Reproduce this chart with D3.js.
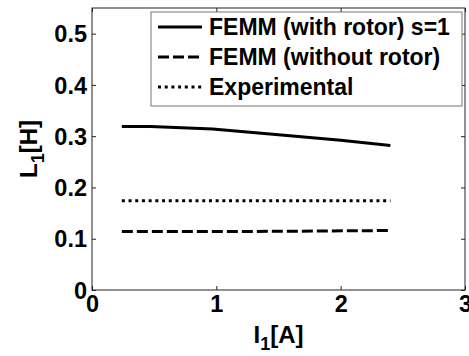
<!DOCTYPE html>
<html>
<head>
<meta charset="utf-8">
<script src="https://cdn.jsdelivr.net/npm/d3@7"></script>
<style>
  body { margin: 0; background: #fff; }
  text { font-family: Arial, "Liberation Sans", sans-serif; font-weight: bold; fill: #000; }
</style>
</head>
<body>
<script>
// values
const withRotorI = [0.24, 0.47, 0.97, 1.5, 2.0, 2.4]
const withRotorL = [0.319, 0.319, 0.314, 0.303, 0.292, 0.282]
const withoutRotorI = [0.24, 1.2, 2.4]
const withoutRotorL = [0.114, 0.114, 0.116]
const experimentalI = [0.24, 2.4]
const experimentalL = [0.174, 0.174]
const xTicks = [0, 1, 2, 3]
const yTicks = [0, 0.1, 0.2, 0.3, 0.4, 0.5]
const legendLabels = ["FEMM (with rotor) s=1", "FEMM (without rotor)", "Experimental"]

const width = 469
const height = 356
const plotLeft = 92, plotRight = 465, plotTop = 8, plotBottom = 290

let svg = d3.select("body").append("svg")
    .attr("width", width)
    .attr("height", height)

let x = d3.scaleLinear().domain([0, 3]).range([plotLeft, plotRight])
let y = d3.scaleLinear().domain([0, 0.55]).range([plotBottom, plotTop])

// box with inward ticks on all four sides
svg.append("rect")
    .attr("x", plotLeft).attr("y", plotTop)
    .attr("width", plotRight - plotLeft).attr("height", plotBottom - plotTop)
    .attr("fill", "none").attr("stroke", "#222").attr("stroke-width", 1)

function tickAxis(axis, tr, fmt) {
    let g = svg.append("g").attr("transform", tr)
        .call(axis.tickSize(-4).tickPadding(8).tickFormat(fmt))
    g.select(".domain").remove()
    g.selectAll("line").attr("stroke", "#222")
    g.selectAll("text").style("font-size", "23.5px").style("font-family", "Arial, 'Liberation Sans', sans-serif")
    return g
}

let xAxis = tickAxis(d3.axisBottom(x).tickValues(xTicks), `translate(0,${plotBottom})`, d3.format("d"))
xAxis.selectAll("text").attr("dy", "0.58em")
tickAxis(d3.axisTop(x).tickValues(xTicks), `translate(0,${plotTop})`, () => "")
let yAxis = tickAxis(d3.axisLeft(y).tickValues(yTicks), `translate(${plotLeft},0)`, d => d === 0 ? "0" : d3.format(".1f")(d))
yAxis.selectAll("text").attr("dx", "3").attr("dy", "0.35em")
tickAxis(d3.axisRight(y).tickValues(yTicks), `translate(${plotRight},0)`, () => "")

// axis titles
let xt = svg.append("text")
    .attr("x", (plotLeft + plotRight) / 2)
    .attr("y", 343)
    .attr("text-anchor", "middle")
    .style("font-size", "24px")
xt.append("tspan").text("I")
xt.append("tspan").text("1").attr("dy", 7).style("font-size", "18px")
xt.append("tspan").text("[A]").attr("dy", -7)

let yt = svg.append("text")
    .attr("transform", `translate(37,${(plotTop + plotBottom) / 2}) rotate(-90)`)
    .attr("text-anchor", "middle")
    .style("font-size", "24px")
yt.append("tspan").text("L")
yt.append("tspan").text("1").attr("dy", 7).style("font-size", "18px")
yt.append("tspan").text("[H]").attr("dy", -7)

let line = d3.line().x(d => x(d[0])).y(d => y(d[1]))
const series = [
    { pts: d3.zip(withRotorI, withRotorL), dash: null },
    { pts: d3.zip(withoutRotorI, withoutRotorL), dash: "11,4" },
    { pts: d3.zip(experimentalI, experimentalL), dash: "3,3.7" }
]

svg.append("g").selectAll("path")
    .data(series).enter()
    .append("path")
        .attr("d", d => line(d.pts))
        .attr("fill", "none")
        .attr("stroke", "#000")
        .attr("stroke-width", 3)
        .attr("stroke-dasharray", d => d.dash)

// legend
let legend = svg.append("g")
legend.append("rect")
    .attr("x", 151).attr("y", 12)
    .attr("width", 311).attr("height", 94)
    .attr("fill", "#fff").attr("stroke", "#777").attr("stroke-width", 1)

let rows = legend.selectAll("g.row")
    .data(series).enter()
    .append("g")
        .attr("transform", (d, i) => `translate(0,${27 + i * 30})`)
rows.append("line")
    .attr("x1", 158).attr("x2", 202)
    .attr("stroke", "#000").attr("stroke-width", 3)
    .attr("stroke-dasharray", d => d.dash)
rows.append("text")
    .attr("x", 209).attr("dy", "0.36em")
    .style("font-size", "23px")
    .text((d, i) => legendLabels[i])
</script>
</body>
</html>
